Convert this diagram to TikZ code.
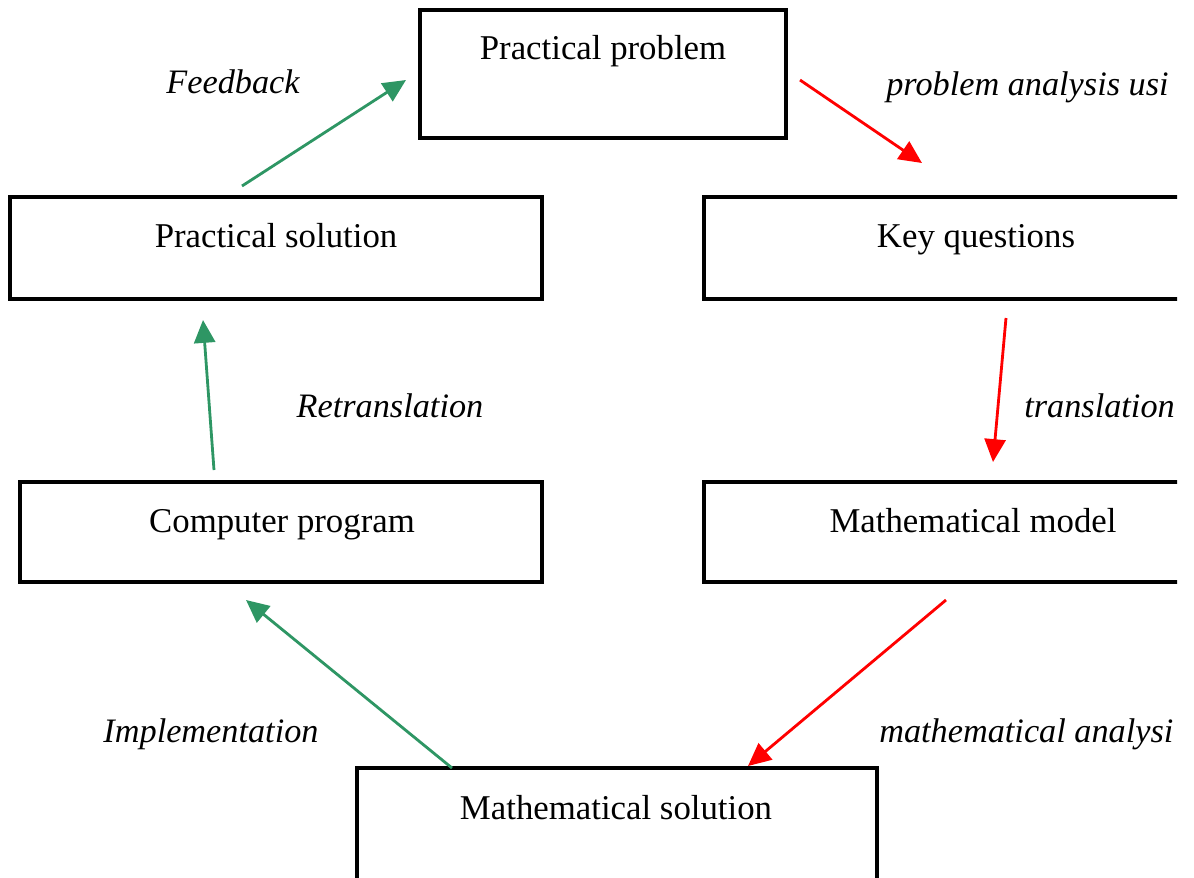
\documentclass[tikz,border=0pt]{standalone}
\usepackage{fontspec}
\setmainfont{Liberation Serif}
\usetikzlibrary{arrows.meta}
\definecolor{fbgreen}{RGB}{46,150,100}
\definecolor{fwred}{RGB}{255,0,0}
\begin{document}
\begin{tikzpicture}[x=0.02cm,y=-0.02cm,
  box/.style={draw, line width=2pt, rectangle, inner sep=0pt},
  lbl/.style={anchor=base, inner sep=0pt, font=\fontsize{19.8}{23}\selectfont},
  elbl/.style={anchor=base, inner sep=0pt, font=\fontsize{19.5}{23}\selectfont\itshape},
  elblw/.style={anchor=base west, inner sep=0pt, font=\fontsize{19.5}{23}\selectfont\itshape},
  garrow/.style={draw=fbgreen, line width=1.6pt, -{Triangle[length=13pt,width=12pt]}, fill=fbgreen},
  rarrow/.style={draw=fwred, line width=1.6pt, -{Triangle[length=13pt,width=12pt]}, fill=fwred}]
\useasboundingbox (0,0) rectangle (1194,877);
\begin{scope}
\clip (0,0) rectangle (1177,877);
% boxes
\node[box, minimum width=366*0.02cm, minimum height=128*0.02cm] (pp) at (603,74) {};
\node[box, minimum width=532*0.02cm, minimum height=102*0.02cm] (ps) at (276,248) {};
\node[box, minimum width=544*0.02cm, minimum height=102*0.02cm] (kq) at (976,248) {};
\node[box, minimum width=522*0.02cm, minimum height=100*0.02cm] (cp) at (281,532) {};
\node[box, minimum width=538*0.02cm, minimum height=100*0.02cm] (mm) at (973,532) {};
\node[box, minimum width=520*0.02cm, minimum height=128*0.02cm] (ms) at (617,832) {};
% box texts
\node[lbl] (tpp) at (603,59) {Practical problem};
\node[lbl] (tps) at (276,247) {Practical solution};
\node[lbl] (tkq) at (976,247) {Key questions};
\node[lbl] (tcp) at (282,532) {Computer program};
\node[lbl] (tmm) at (973,532) {Mathematical model};
\node[lbl] (tms) at (616,819) {Mathematical solution};
% edge labels
\node[elbl] (lfb) at (233,93) {Feedback};
\node[elblw] (lpa) at (886,95) {problem analysis usi};
\node[elbl] (lrt) at (390,417) {Retranslation};
\node[elblw] (ltr) at (1024,417) {translation};
\node[elbl] (lim) at (211,742) {Implementation};
\node[elblw] (lma) at (879,742) {mathematical analysi};
% arrow end points
\coordinate (fbA) at (242,186);  \coordinate (fbB) at (406,80);
\coordinate (rtA) at (214,470);  \coordinate (rtB) at (203,320);
\coordinate (imA) at (452,768);  \coordinate (imB) at (246,600);
\coordinate (paA) at (800,80);   \coordinate (paB) at (922,163);
\coordinate (trA) at (1006,318); \coordinate (trB) at (993,462);
\coordinate (maA) at (946,600);  \coordinate (maB) at (748,766);
% arrows
\draw[garrow] (fbA) -- (fbB);
\draw[garrow] (rtA) -- (rtB);
\draw[garrow] (imA) -- (imB);
\draw[rarrow] (paA) -- (paB);
\draw[rarrow] (trA) -- (trB);
\draw[rarrow] (maA) -- (maB);
\end{scope}
\end{tikzpicture}
\end{document}
